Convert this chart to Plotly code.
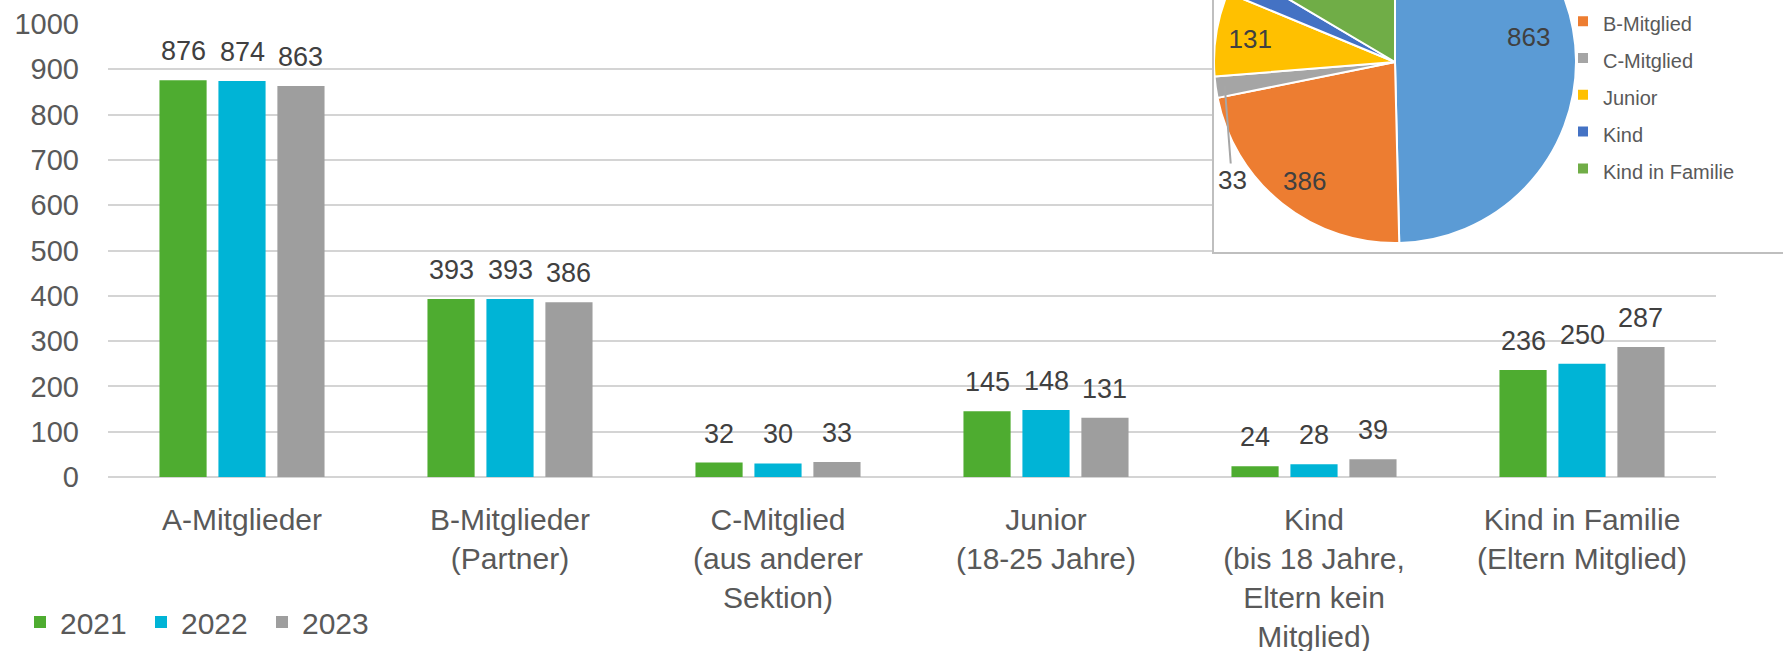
import math
import plotly.graph_objects as go

# ---------------- data ----------------
categories = [
    "A-Mitglieder",
    "B-Mitglieder<br>(Partner)",
    "C-Mitglied<br>(aus anderer<br>Sektion)",
    "Junior<br>(18-25 Jahre)",
    "Kind<br>(bis 18 Jahre,<br>Eltern kein<br>Mitglied)",
    "Kind in Familie<br>(Eltern Mitglied)",
]
years = ["2021", "2022", "2023"]
values_2021 = [876, 393, 32, 145, 24, 236]
values_2022 = [874, 393, 30, 148, 28, 250]
values_2023 = [863, 386, 33, 131, 39, 287]
year_colors = ["#4EAC30", "#00B4D6", "#9E9E9E"]
y_ticks = [0, 100, 200, 300, 400, 500, 600, 700, 800, 900, 1000]

pie_labels = ["A-Mitglied", "B-Mitglied", "C-Mitglied", "Junior", "Kind", "Kind in Familie"]
pie_values = [863, 386, 33, 131, 39, 287]
pie_colors = ["#5B9BD5", "#ED7D31", "#A5A5A5", "#FFC000", "#4472C4", "#70AD47"]
pie_textpos = ["none", "none", "none", "inside", "inside", "inside"]

# ---------------- geometry ----------------
W = 1783
S = 130            # part of the figure hidden above the window
H = 651 + S
ML, MR, MT, MB = 108, 67, 0, 174
PW, PH = W - ML - MR, H - MT - MB
AXIS_TOP = 154     # pixel row of the 1000 line
BARGAP, BARGROUPGAP = 0.34, 0.2
NCAT = len(categories)

FONT = "Liberation Sans, Arial, sans-serif"
TXT = "#595959"
VAL = "#404040"

def px_x(p):
    return (p - ML) / PW

def px_y(p):
    return (MT + PH - p) / PH

fig = go.Figure()
series = [values_2021, values_2022, values_2023]
for name, vals, col in zip(years, series, year_colors):
    fig.add_trace(go.Bar(name=name, x=categories, y=vals, marker=dict(color=col, line=dict(width=0)),
                         legend="legend", hoverinfo="x+y+name"))

# value labels above the bars
slot = PW / NCAT * (1 - BARGAP) / len(years)
annotations = []
for j, vals in enumerate(series):
    for c, v in zip(categories, vals):
        annotations.append(dict(x=c, y=v, xref="x", yref="y", text=str(v), showarrow=False,
                                xshift=(j - 1) * slot, yshift=12, yanchor="bottom",
                                font=dict(family=FONT, size=27, color=VAL)))

# pie inset
pcx, pcy, pr = 1395, 62 + S, 181
dom_x = [px_x(pcx - pr), px_x(pcx + pr)]
dom_y = [px_y(pcy + pr), px_y(pcy - pr)]
legend_labels = ["<span style='font-size:20px'>%s</span>" % l for l in pie_labels]
fig.add_trace(go.Pie(labels=legend_labels, values=pie_values, sort=False, direction="clockwise",
                     rotation=0, marker=dict(colors=pie_colors, line=dict(color="white", width=2)),
                     textinfo="value", textposition=pie_textpos, insidetextorientation="horizontal",
                     textfont=dict(family=FONT, size=26, color=VAL), domain=dict(x=dom_x, y=dom_y),
                     legend="legend2", hoverinfo="label+value"))

# slice labels placed along each slice's mid angle
total = sum(pie_values)

def slice_point(k, frac):
    mid = (sum(pie_values[:k]) + pie_values[k] / 2) / total * 2 * math.pi
    return pcx + frac * pr * math.sin(mid), pcy - frac * pr * math.cos(mid)

for k, frac, nudge in [(0, 0.74, 23), (1, 0.80, -6)]:
    sx, sy = slice_point(k, frac)
    annotations.append(dict(x=px_x(sx), y=px_y(sy), xref="paper", yref="paper",
                            xanchor="center", yanchor="middle", yshift=nudge,
                            text=str(pie_values[k]), showarrow=False,
                            font=dict(family=FONT, size=26, color=VAL)))

# leader line + label for the small C slice
lx, ly = slice_point(2, 0.95)
annotations.append(dict(x=px_x(lx), y=px_y(ly), xref="paper", yref="paper", text=str(pie_values[2]),
                        showarrow=True, arrowhead=0, arrowwidth=2, arrowcolor="#A6A6A6", standoff=0,
                        ax=1232 - lx, ay=(180 + S) - ly,
                        font=dict(family=FONT, size=26, color=VAL)))

shapes = [
    # white panel of the inset (between grid and traces)
    dict(type="rect", xref="x", yref="y", x0=(1213 - ML) / (PW / NCAT) - 0.5, x1=NCAT - 0.5,
         y0=494, y1=1000, layer="between", fillcolor="white", line=dict(width=0)),
    # panel border
    dict(type="rect", xref="paper", yref="paper", x0=px_x(1213), x1=1.3, y0=px_y(383), y1=1.5,
         layer="above", fillcolor="rgba(0,0,0,0)", line=dict(color="#BFBFBF", width=2)),
]

fig.update_layout(
    width=W, height=H, margin=dict(l=ML, r=MR, t=MT, b=MB, autoexpand=False),
    paper_bgcolor="white", plot_bgcolor="white",
    barmode="group", bargap=BARGAP, bargroupgap=BARGROUPGAP,
    font=dict(family=FONT, color=TXT),
    showlegend=True,
    legend=dict(orientation="h", x=px_x(20), y=px_y(752), xanchor="left", yanchor="middle",
                entrywidth=76, font=dict(family=FONT, size=30, color=TXT), bgcolor="rgba(0,0,0,0)"),
    legend2=dict(orientation="v", x=px_x(1563), y=px_y(91), xanchor="left", yanchor="top",
                 font=dict(family=FONT, size=26, color=TXT), bgcolor="rgba(0,0,0,0)"),
    xaxis=dict(type="category", range=[-0.5, NCAT - 0.5], showgrid=False, showline=False, ticks="",
               tickangle=0, tickfont=dict(family=FONT, size=30, color=TXT), ticklabelstandoff=22),
    yaxis=dict(domain=[0, px_y(AXIS_TOP)], range=[0, 1000], tickvals=y_ticks, showgrid=True,
               gridcolor="#D4D4D4", gridwidth=2, zeroline=True, zerolinecolor="#D4D4D4",
               zerolinewidth=2, showline=False, ticks="", ticklabelstandoff=28,
               tickfont=dict(family=FONT, size=29, color=TXT)),
    annotations=annotations,
    shapes=shapes,
)

post = ("var gd=document.getElementById('{plot_id}');gd.style.marginTop='-%dpx';"
        "document.body.style.margin='0';document.body.style.overflow='hidden';" % S)
fig.write_html("out.html", post_script=post)
